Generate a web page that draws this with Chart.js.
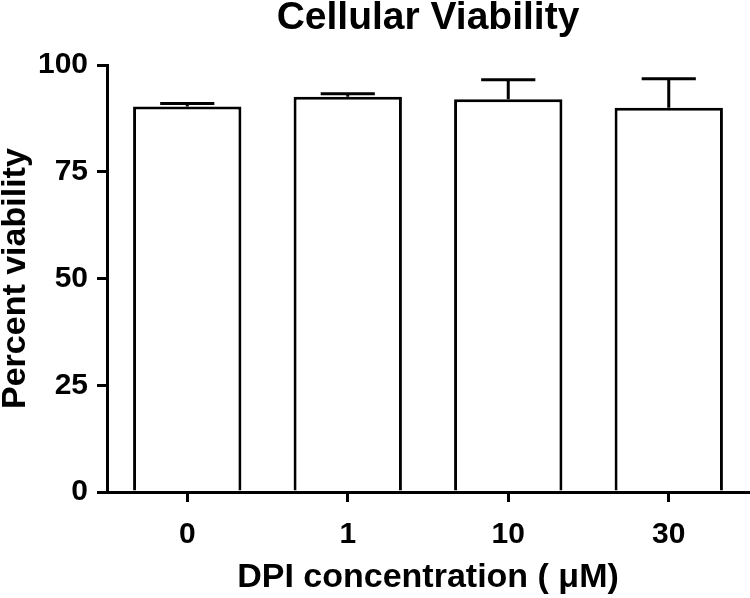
<!DOCTYPE html>
<html>
<head>
<meta charset="utf-8">
<script src="https://cdnjs.cloudflare.com/ajax/libs/Chart.js/4.4.1/chart.umd.js"></script>
<style>
html,body{margin:0;padding:0;background:#fff;}
#wrap{width:750px;height:598px;position:relative;}
</style>
</head>
<body>
<div id="wrap"><canvas id="c" width="750" height="598"></canvas></div>
<script>
const labels=['0','1','10','30'];
const means=[90.3,92.6,92.0,90.0];
const sems=[0.7,0.7,4.6,6.8];
const yTicks=[0,25,50,75,100];

const FONT='"Liberation Sans", Arial, sans-serif';

// upper-only error bars, like the Prism figure
const errBars={
  id:'errBars',
  afterDatasetsDraw(chart){
    const ctx=chart.ctx,meta=chart.getDatasetMeta(0),y=chart.scales.y;
    ctx.save();
    ctx.strokeStyle='#000';ctx.lineWidth=3;ctx.lineCap='butt';
    meta.data.forEach((bar,i)=>{
      const top=y.getPixelForValue(means[i]);
      const hi=y.getPixelForValue(means[i]+sems[i]);
      const half=bar.width/4;
      ctx.beginPath();
      ctx.moveTo(bar.x,top);ctx.lineTo(bar.x,hi);
      ctx.moveTo(bar.x-half,hi);ctx.lineTo(bar.x+half,hi);
      ctx.stroke();
    });
    ctx.restore();
  }
};

new Chart(document.getElementById('c'),{
  type:'bar',
  data:{labels:labels,datasets:[{
    data:means,backgroundColor:'#fff',borderColor:'#000',borderWidth:3,
    categoryPercentage:1,barPercentage:0.675
  }]},
  plugins:[errBars],
  options:{
    responsive:false,animation:false,
    layout:{padding:{top:0,right:1,bottom:0,left:0}},
    plugins:{
      legend:{display:false},tooltip:{enabled:false},
      title:{display:true,text:'Cellular Viability',color:'#000',fullSize:false,
        font:{family:FONT,size:39,weight:'bold',lineHeight:0.85},padding:{top:2,bottom:30}}
    },
    scales:{
      x:{
        grid:{display:true,drawOnChartArea:false,offset:false,color:'#000',lineWidth:3,tickLength:10},
        border:{color:'#000',width:3},
        ticks:{color:'#000',font:{family:FONT,size:30,weight:'bold'},padding:15},
        title:{display:true,text:'DPI concentration ( \u03bcM)',color:'#000',
          font:{family:FONT,size:34,weight:'bold',lineHeight:1},padding:{top:0,bottom:3}},
        afterFit(s){s.height=106;}
      },
      y:{
        min:0,max:100,
        afterBuildTicks(s){s.ticks=yTicks.map(v=>({value:v}));},
        grid:{display:true,drawOnChartArea:false,color:'#000',lineWidth:3,tickLength:10},
        border:{color:'#000',width:3},
        ticks:{color:'#000',font:{family:FONT,size:30,weight:'bold'},padding:9},
        title:{display:true,text:'Percent viability',color:'#000',
          font:{family:FONT,size:34,weight:'bold',lineHeight:0.82},padding:{top:2,bottom:0}},
        afterFit(s){s.width=107;}
      }
    }
  }
});
</script>
</body>
</html>
